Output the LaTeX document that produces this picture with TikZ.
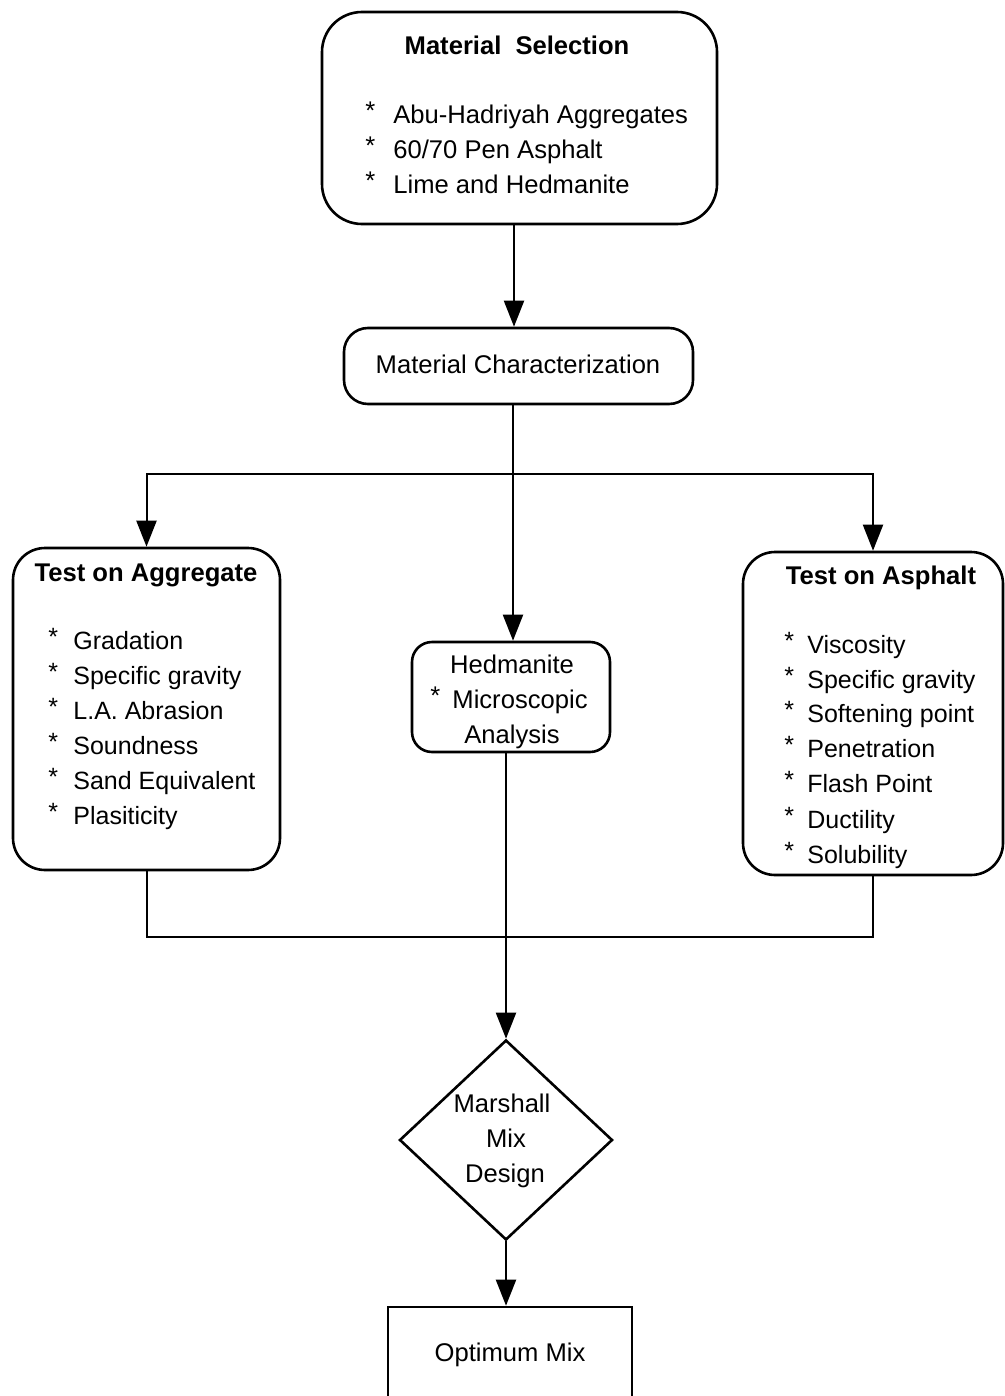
\documentclass[tikz,border=0pt]{standalone}
\usepackage{fontspec}
\setmainfont{Liberation Sans}
\usetikzlibrary{shapes.geometric,arrows.meta}
\newcommand{\bul}{\raisebox{2pt}{*}}
\begin{document}
\begin{tikzpicture}[x=0.5pt,y=-0.5pt,
  box/.style={draw,line width=1.3pt,inner sep=0pt,rounded corners=#1},
  sqbox/.style={draw,line width=1.3pt,inner sep=0pt},
  dia/.style={draw,line width=1.3pt,diamond,inner sep=0pt},
  txt/.style={font=\fontsize{12.8}{15}\selectfont,inner sep=0pt,anchor=base west},
  stxt/.style={font=\fontsize{12.5}{15}\selectfont,inner sep=0pt,anchor=base west},
  ctxt/.style={font=\fontsize{12.8}{15}\selectfont,inner sep=0pt,anchor=base},
  btxt/.style={font=\bfseries\fontsize{12.8}{15}\selectfont,inner sep=0pt,anchor=base},
  conn/.style={line width=1pt},
  arr/.style={line width=1pt,-{Triangle[width=10pt,length=13pt]}}]
\clip (0,0) rectangle (1005,1396);
\fill[white] (0,0) rectangle (1005,1396);

% Material Selection
\node[box=20pt,minimum width=197.5pt,minimum height=106pt] (ms) at (519.5,118) {};
\node[btxt] (mst) at (517,55) {Material\hspace{0.55em}Selection};
\node[txt] (msb1) at (365,124) {\bul};
\node[txt] (mst1) at (393,124) {Abu-Hadriyah Aggregates};
\node[txt] (msb2) at (365,159) {\bul};
\node[txt] (mst2) at (393,159) {60/70 Pen Asphalt};
\node[txt] (msb3) at (365,194) {\bul};
\node[txt] (mst3) at (393,194) {Lime and Hedmanite};

% Material Characterization
\node[box=12pt,minimum width=174.5pt,minimum height=38pt] (mc) at (518.5,366) {};
\node[ctxt] (mct) at (518,373) {Material Characterization};

% Test on Aggregate
\node[box=16pt,minimum width=133.5pt,minimum height=161pt] (ta) at (146.5,709) {};
\node[btxt] (tat) at (146,581) {Test on Aggregate};
\foreach \i/\t [count=\k] in {649/Gradation,684/Specific gravity,719/L.A. Abrasion,754/Soundness,789/Sand Equivalent,824/Plasiticity}{
  \node[stxt] (tab\k) at (48,\i) {\bul};
  \node[stxt] (tax\k) at (73,\i) {\t};
}

% Test on Asphalt
\node[box=16pt,minimum width=130pt,minimum height=161.5pt] (tp) at (873,713.5) {};
\node[btxt] (tpt) at (881,584) {Test on Asphalt};
\foreach \i/\t [count=\k] in {653/Viscosity,688/Specific gravity,722/Softening point,757/Penetration,792/Flash Point,828/Ductility,863/Solubility}{
  \node[stxt] (tpb\k) at (784,\i) {\bul};
  \node[stxt] (tpx\k) at (807,\i) {\t};
}

% Hedmanite
\node[box=10pt,minimum width=99pt,minimum height=55pt] (hm) at (511,697) {};
\node[ctxt] (hmt1) at (512,673) {Hedmanite};
\node[txt] (hmb) at (430,708) {\bul};
\node[ctxt] (hmt2) at (520,708) {Microscopic};
\node[ctxt] (hmt3) at (512,743) {Analysis};

% Marshall Mix Design
\node[dia,minimum width=106.5pt,minimum height=100pt] (md) at (506,1140) {};
\node[ctxt] (mdt1) at (502,1112) {Marshall};
\node[ctxt] (mdt2) at (506,1147) {Mix};
\node[ctxt] (mdt3) at (505,1182) {Design};

% Optimum Mix
\node[sqbox,minimum width=122pt,minimum height=71.5pt] (om) at (510,1378.5) {};
\node[ctxt] (omt) at (510,1361) {Optimum Mix};

% connectors
\coordinate (split) at (513,474);
\coordinate (merge) at (506,937);
\draw[arr] ([xshift=-2.75pt]ms.south) -- ([xshift=-2.75pt]ms.south |- mc.north);
\draw[arr] (split |- mc.south) -- (split |- hm.north);
\draw[arr] (split) -| (ta.north);
\draw[arr] (split) -| (tp.north);
\draw[conn] (ta.south) |- (merge) -| (tp.south);
\draw[arr] (md.north |- hm.south) -- (md.north);
\draw[arr] (md.south) -- (md.south |- om.north);
\end{tikzpicture}
\end{document}
